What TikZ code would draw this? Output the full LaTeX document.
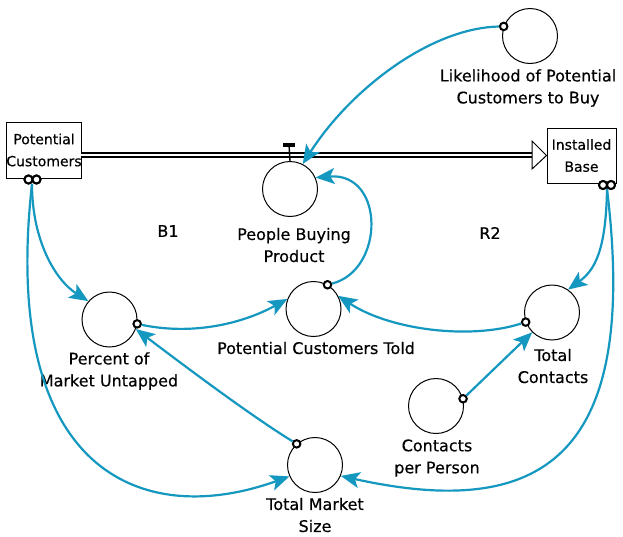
\documentclass[tikz,border=0pt]{standalone}
\usepackage{fontspec}
\setmainfont{DejaVu Sans}[FakeBold=0.4]
\usetikzlibrary{arrows.meta,calc}
\definecolor{linkblue}{RGB}{20,152,192}
\begin{document}
\begin{tikzpicture}[x=1pt,y=-1pt,
  aux/.style={circle,draw,line width=1pt,minimum size=55pt,inner sep=0pt},
  stock/.style={draw,line width=1pt,inner sep=0pt,align=center,
    font=\fontsize{14pt}{22pt}\selectfont},
  lbl/.style={align=center,inner sep=0pt,font=\fontsize{16pt}{22pt}\selectfont},
  port/.style={circle,draw,fill=white,line width=2pt,minimum size=7.5pt,inner sep=0pt},
  cloud/.style={circle,draw,fill=white,line width=2pt,minimum size=8pt,inner sep=0pt},
  link/.style={draw=linkblue,line width=2.2pt,
    -{Stealth[length=19pt,width=16pt,inset=4.5pt]}},
]
\useasboundingbox[fill=white] (0,0) rectangle (623,536);

% stocks
\node[stock,minimum width=74pt,minimum height=56pt] (pc) at (44,150) {Potential\\Customers};
\node[stock,minimum width=69pt,minimum height=55pt] (ib) at (581.5,155.5) {Installed\\Base};

% auxiliaries
\node[aux] (lk)  at (530,36) {};
\node[aux] (pbp) at (290,189) {};
\node[aux] (pmu) at (109.5,319.5) {};
\node[aux] (pct) at (313.5,309) {};
\node[aux] (tc)  at (552,312.5) {};
\node[aux] (cpp) at (436,406) {};
\node[aux] (tms) at (315,465) {};

% labels
\node[lbl] (lk-l)  at (528,88)  {Likelihood of Potential\\Customers to Buy};
\node[lbl] (pbp-l) at (294,245) {People Buying\\Product};
\node[lbl] (pmu-l) at (109,371) {Percent of\\Market Untapped};
\node[lbl] (pct-l) at (316,348) {Potential Customers Told};
\node[lbl] (tc-l)  at (553,366) {Total\\Contacts};
\node[lbl] (cpp-l) at (437,458) {Contacts\\per Person};
\node[lbl] (tms-l) at (315,515) {Total Market\\Size};
\node[lbl] (b1) at (168,231) {B1};
\node[lbl] (r2) at (490,233) {R2};

% flow pipe with valve
\coordinate (pipeL) at (81,155);
\coordinate (pipeR) at (532,155);
\draw[line width=1.3pt,double=white,double distance=2.7pt] (pipeL) -- (pipeR);
\draw[line width=1pt,fill=white] (532,141) -- (ib.west) -- (532,169) -- cycle;
\coordinate (valve) at (289,144.5);
\draw[line width=1.4pt] (valve) -- (pbp.north);
\draw[line width=4pt] ($(valve)+(-6,0)$) -- ($(valve)+(6,0)$);

% clouds under the stocks
\node[cloud] (pcc1) at (28.5,179.5) {};
\node[cloud] (pcc2) at (36.5,179.5) {};
\node[cloud] (ibc1) at (603,185) {};
\node[cloud] (ibc2) at (611,185) {};
\coordinate (pcsrc) at (32,184);
\coordinate (ibsrc) at (607,189);

% ports
\node[port] (lkp)  at (lk.160) {};
\node[port] (pctp) at (pct.60) {};
\node[port] (pmup) at (pmu.-9) {};
\node[port] (tcp)  at (tc.200) {};
\node[port] (cppp) at (cpp.15) {};
\node[port] (tmsp) at (tms.131) {};

% causal links
\draw[link] (lkp) .. controls (430,28) and (350,90) .. (pbp.63);
\draw[link] (pctp) .. controls (385,270) and (385,172) .. (pbp.24);
\draw[link] (pcsrc) .. controls (32,240) and (55,280) .. (pmu.139);
\draw[link] (pmup) .. controls (190,335) and (240,325) .. (pct.159);
\draw[link] (tcp) .. controls (470,340) and (390,330) .. (pct.28);
\draw[link] (ibsrc) .. controls (606,250) and (595,270) .. (tc.55);
\draw[link] (cppp) -- (tc.225);
\draw[link] (tmsp) .. controls (250,415) and (190,370) .. (pmu.-20);
\draw[link] (pcsrc) .. controls (0,470) and (140,530) .. (tms.204);
\draw[link] (ibsrc) .. controls (640,460) and (540,520) .. (tms.-23);

% redraw clouds over link ends
\node[cloud] at (pcc1) {};
\node[cloud] at (pcc2) {};
\node[cloud] at (ibc1) {};
\node[cloud] at (ibc2) {};
\end{tikzpicture}
\end{document}
